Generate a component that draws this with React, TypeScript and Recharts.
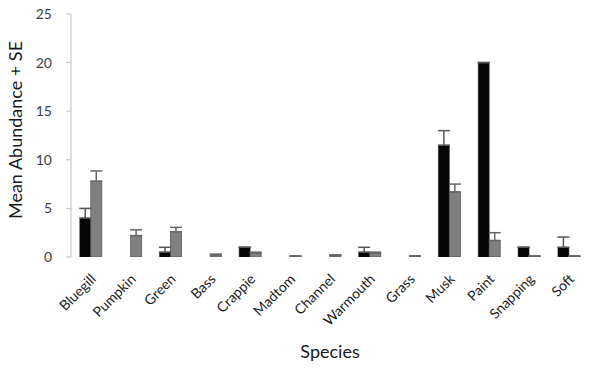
import { BarChart, Bar, XAxis, YAxis, ErrorBar, Label } from 'recharts';

const species = ['Bluegill', 'Pumpkin', 'Green', 'Bass', 'Crappie', 'Madtom', 'Channel', 'Warmouth', 'Grass', 'Musk', 'Paint', 'Snapping', 'Soft'];
const blackMean = [4.0, 0, 0.5, 0, 1.0, 0, 0, 0.5, 0, 11.5, 20.0, 1.0, 1.0];
const blackSE = [1.0, 0, 0.5, 0, 0, 0, 0, 0.5, 0, 1.5, 0, 0, 1.05];
const grayMean = [7.8, 2.2, 2.6, 0.2, 0.4, 0.1, 0.2, 0.4, 0.1, 6.7, 1.7, 0.1, 0.1];
const graySE = [1.05, 0.6, 0.45, 0.1, 0.1, 0, 0, 0.1, 0, 0.8, 0.8, 0, 0];
const yTicks = [0, 5, 10, 15, 20, 25];
const boundaryTicks = species.map((_, i) => i).concat(species.length);

const data = species.map((name, i) => ({
  name,
  black: blackMean[i],
  blackErr: [0, blackSE[i]],
  gray: grayMean[i],
  grayErr: [0, graySE[i]],
}));

const FONT = 'Lato, "Open Sans", sans-serif';

const SpeciesTick = ({ x, y, payload }: any) => (
  <g transform={`translate(${x + 6},${y + 15})`}>
    <text x={0} y={0} textAnchor="end" transform="rotate(-45)" fontSize={14} fill="#1a1a1a" fontFamily={FONT}>
      {payload.value}
    </text>
  </g>
);

export default function App() {
  return (
    <div style={{ position: 'absolute', left: 0, top: 0, width: 600, height: 372, background: '#fff' }}>
      <BarChart
        width={600}
        height={372}
        data={data}
        margin={{ top: 14, right: 11, left: 0, bottom: 0 }}
        barCategoryGap="22%"
        barGap={0}
      >
        <XAxis
          xAxisId="grid"
          type="number"
          domain={[0, species.length]}
          ticks={boundaryTicks}
          allowDataOverflow
          height={0}
          axisLine={{ stroke: '#bfbfbf' }}
          tickLine={{ stroke: '#bfbfbf' }}
          tickSize={5}
          tick={() => <g />}
        />
        <XAxis
          dataKey="name"
          height={115}
          axisLine={false}
          tickLine={false}
          interval={0}
          tick={<SpeciesTick />}
        >
          <Label
            content={() => (
              <text x={330} y={358} textAnchor="middle" fontSize={18} fill="#1a1a1a" fontFamily={FONT}>
                Species
              </text>
            )}
          />
        </XAxis>
        <YAxis
          width={71}
          domain={[0, 25]}
          ticks={yTicks}
          allowDataOverflow
          axisLine={{ stroke: '#bfbfbf' }}
          tickLine={{ stroke: '#bfbfbf' }}
          tickSize={5}
          tickMargin={14}
          tick={{ fontSize: 14, fill: '#404040', fontFamily: FONT }}
        >
          <Label
            content={() => (
              <text x={22} y={130} textAnchor="middle" transform="rotate(-90 22 130)" fontSize={18} fill="#1a1a1a" fontFamily={FONT}>
                Mean Abundance + SE
              </text>
            )}
          />
        </YAxis>
        <Bar dataKey="black" fill="#050505" stroke="#222" strokeWidth={0.5} isAnimationActive={false}>
          <ErrorBar dataKey="blackErr" width={6} stroke="#555" strokeWidth={1.5} direction="y" />
        </Bar>
        <Bar dataKey="gray" fill="#808080" stroke="#555" strokeWidth={0.8} isAnimationActive={false}>
          <ErrorBar dataKey="grayErr" width={6} stroke="#666" strokeWidth={1.5} direction="y" />
        </Bar>
      </BarChart>
    </div>
  );
}
